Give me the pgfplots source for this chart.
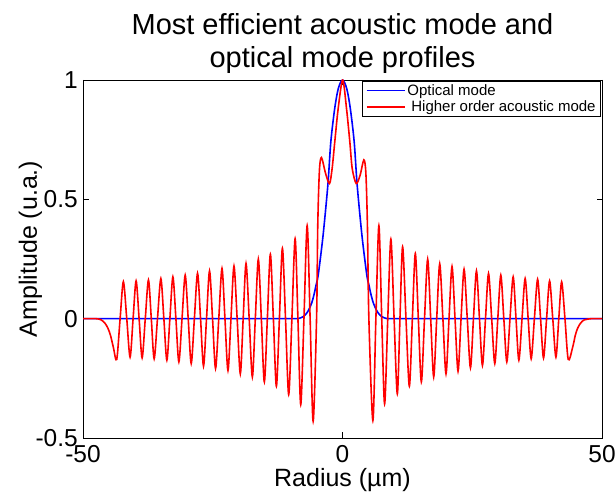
\documentclass[border=0pt]{standalone}
\usepackage{fontspec}
\setmainfont{Liberation Sans}
\usepackage{pgfplots}
\pgfplotsset{compat=1.18}
\usepackage{pgfplotstable}

\pgfplotstableread{
x y
-50 0
-30 0
-20 0
-15 0
-12 0
-10 0
-9.2 0
-8.6 0
-7.6 0.008
-6.8 0.026
-6.0 0.062
-5.5 0.10
-5.1 0.14
-4.7 0.18
-4.0 0.30
-3.55 0.39
-2.8 0.566
-2.25 0.741
-1.5 0.881
-0.8 0.965
0 1.0
0.8 0.965
1.5 0.881
2.25 0.741
2.8 0.566
3.55 0.39
4.0 0.30
4.7 0.18
5.1 0.14
5.5 0.10
6.0 0.062
6.8 0.026
7.6 0.008
8.6 0
9.2 0
10 0
12 0
15 0
20 0
30 0
50 0
}\optical

\pgfplotstableread{
x y
-50 0
-49 0
-48 0
-47.5 0
-46.6 -0.004
-45.8 -0.018
-45.2 -0.04
-44.7 -0.07
-44.15 -0.12
-43.5 -0.171
-42.85 0
-42.22 0.155
-41.57 0
-40.93 -0.161
-40.35 0
-39.77 0.158
-39.19 0
-38.61 -0.164
-38.0 0
-37.39 0.162
-36.84 0
-36.29 -0.168
-35.65 0
-35.0 0.168
-34.42 0
-33.84 -0.174
-33.26 0
-32.68 0.175
-32.10 0
-31.53 -0.181
-30.92 0
-30.31 0.182
-29.73 0
-29.15 -0.188
-28.54 0
-27.93 0.19
-27.35 0
-26.78 -0.199
-26.20 0
-25.62 0.2
-25.04 0
-24.46 -0.209
-23.84 0
-23.22 0.21
-22.65 0
-22.07 -0.217
-21.49 0
-20.91 0.22
-20.30 0
-19.69 -0.231
-19.14 0
-18.59 0.231
-17.98 0
-17.37 -0.244
-16.80 0
-16.22 0.249
-15.64 0
-15.06 -0.265
-14.48 0
-13.90 0.27
-13.32 0
-12.74 -0.283
-12.16 0
-11.58 0.295
-10.98 0
-10.37 -0.318
-9.75 0
-9.13 0.335
-8.59 0
-8.05 -0.36
-7.43 0
-6.81 0.39
-6.24 0
-5.66 -0.43
-5.0 0
-4.77 0.39
-4.45 0.62
-4.05 0.675
-3.28 0.61
-2.51 0.566
-2.0 0.629
-1.49 0.741
-0.83 0.881
0.03 1.0
0.77 0.881
1.41 0.741
1.87 0.629
2.64 0.566
3.38 0.60
4.11 0.665
4.5 0.61
4.8 0.39
5.08 0
5.85 -0.427
6.43 0
7.01 0.39
7.56 0
8.11 -0.357
8.72 0
9.32 0.333
9.94 0
10.56 -0.315
11.07 0
11.58 0.301
12.23 0
12.88 -0.283
13.46 0
14.03 0.273
14.61 0
15.19 -0.265
15.80 0
16.41 0.249
16.99 0
17.57 -0.244
18.15 0
18.73 0.23
19.34 0
19.94 -0.231
20.52 0
21.10 0.218
21.68 0
22.26 -0.22
22.84 0
23.42 0.207
24.04 0
24.65 -0.206
25.23 0
25.81 0.2
26.39 0
26.96 -0.196
27.55 0
28.13 0.189
28.74 0
29.34 -0.188
29.92 0
30.50 0.182
31.08 0
31.66 -0.181
32.27 0
32.88 0.175
33.43 0
33.98 -0.174
34.59 0
35.19 0.168
35.77 0
36.35 -0.168
36.97 0
37.59 0.165
38.16 0
38.73 -0.165
39.32 0
39.90 0.158
40.51 0
41.12 -0.161
41.67 0
42.22 0.154
42.86 0
43.49 -0.171
44.34 -0.12
44.85 -0.07
45.3 -0.04
45.9 -0.018
46.6 -0.005
47.9 0
48.5 0
49.2 0
50 0
}\acoustic

\begin{document}
\begin{tikzpicture}[x=1bp,y=1bp]
\useasboundingbox (0,0) rectangle (616,494);
\begin{axis}[
  at={(83bp,56bp)}, anchor=south west,
  width=519bp, height=358bp, scale only axis,
  xmin=-50, xmax=50, ymin=-0.5, ymax=1,
  xtick={-50,0,50}, xticklabels={-50,0,50},
  ytick={-0.5,0,0.5,1}, yticklabels={-0.5,0,0.5,1},
  tick align=inside, major tick length=5.5bp,
  tick style={black, line width=0.8bp},
  axis line style={black, line width=0.8bp},
  ticklabel style={font=\fontsize{24.5bp}{28bp}\selectfont},
  xticklabel style={anchor=base, inner sep=0pt, yshift=-25bp},
  yticklabel style={anchor=east, inner sep=0pt, xshift=-5bp},
  xlabel={Radius (µm)},
  ylabel={Amplitude (u.a.)},
  label style={font=\fontsize{25bp}{29bp}\selectfont},
  xlabel style={at={(rel axis cs:0.5,0)}, anchor=base, inner sep=0pt, yshift=-49bp},
  ylabel style={at={(rel axis cs:0,0.5)}, anchor=base, inner sep=0pt, xshift=10bp, yshift=46bp},
  legend style={at={(rel axis cs:1,1)}, anchor=north east, xshift=-1bp, yshift=-1bp,
    draw=black, line width=0.8bp, font=\fontsize{15bp}{18bp}\selectfont,
    inner xsep=3bp, inner ysep=1bp, row sep=0bp,
    nodes={inner ysep=2bp, inner xsep=2bp}},
  legend cell align=left,
  legend image code/.code={\draw[#1, line width=1.6bp] (0bp,0bp) -- (38bp,0bp);},
  after end axis/.code={
    \node[anchor=base, font=\fontsize{29bp}{33bp}\selectfont, inner sep=0pt]
      at ([yshift=12bp]rel axis cs:0.5,1) {optical mode profiles};
    \node[anchor=base, font=\fontsize{29bp}{33bp}\selectfont, inner sep=0pt]
      at ([yshift=45bp]rel axis cs:0.5,1) {Most efficient acoustic mode and};
  },
]
\addplot[blue, line width=1.6bp, smooth, tension=0.5] table {\optical};
\addlegendentry{Optical mode}
\addplot[red, line width=1.6bp, smooth, tension=0.5] table {\acoustic};
\addlegendentry{\hspace*{4bp}Higher order acoustic mode}
\end{axis}
\end{tikzpicture}
\end{document}
